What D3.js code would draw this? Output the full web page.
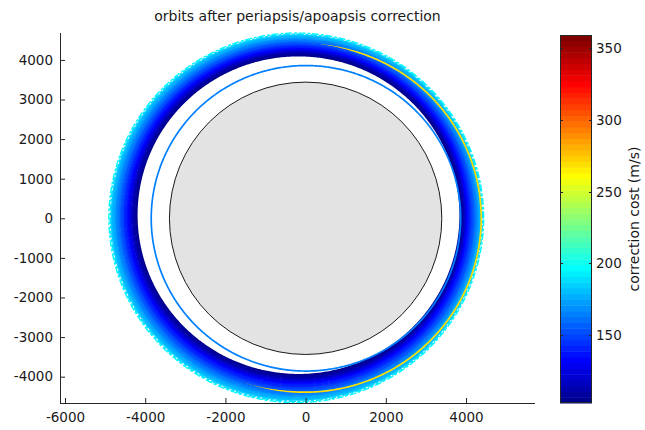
<!DOCTYPE html>
<html>
<head>
<meta charset="utf-8">
<script src="https://cdn.jsdelivr.net/npm/d3@7/dist/d3.min.js"></script>
<style>
  html, body { margin: 0; padding: 0; background: #fff; }
  svg { display: block; font-family: "DejaVu Sans", sans-serif; }
</style>
</head>
<body>
<svg id="chart" width="645" height="430"></svg>
<script>
// Corrected orbits forming the ring: Keplerian ellipses with Mars at the focus (km, deg, m/s)
const ringSemiMajor     = [4035, 4058, 4081, 4104, 4127, 4150, 4173, 4196, 4219, 4242, 4265, 4288, 4311, 4334,
                           4357, 4380, 4403, 4426, 4449, 4472, 4495, 4518, 4541, 4564, 4587, 4610, 4641, 4672];
const ringEccentricity  = [0.048, 0.048, 0.048, 0.048, 0.048, 0.048, 0.049, 0.049, 0.049, 0.049, 0.049, 0.049, 0.049, 0.049,
                           0.049, 0.049, 0.049, 0.050, 0.050, 0.050, 0.050, 0.050, 0.050, 0.050, 0.050, 0.050, 0.050, 0.050];
const ringPeriapsisDeg  = [-24, -23, -22, -21, -20, -19, -18, -17, -17, -16, -15, -14, -13, -12,
                           -12, -11, -10, -9, -8, -8, -7, -6, -6, -5, -4, -4, -3, -3];
const ringCost          = [104, 107, 110, 113, 116, 119, 123, 127, 131, 135, 139, 142, 145, 148,
                           151, 154, 157, 160, 163, 166, 169, 172, 175, 178, 181, 185, 190, 196];

// Two further orbits: a costly near-circular one and an inner low orbit
const extraSemiMajor    = [4392, 3858];
const extraEccentricity = [0.003, 0.002];
const extraPeriapsisDeg = [0, 180];
const extraCost         = [268, 164];

const marsRadius = 3396;
const costRange  = [102.6, 359.3];
const xDomain    = [-6125, 5720];
const yDomain    = [-4665, 4680];
const xTicks     = [-6000, -4000, -2000, 0, 2000, 4000];
const yTicks     = [-4000, -3000, -2000, -1000, 0, 1000, 2000, 3000, 4000];
const cbTicks    = [150, 200, 250, 300, 350];

const titleText  = "orbits after periapsis/apoapsis correction";
const cbLabel    = "correction cost (m/s)";

// MATLAB-style jet colormap with 64 levels
function jet64() {
  const m = 64, n = 16;
  const u = [];
  for (let k = 1; k <= n; k++) u.push(k / n);
  for (let k = 1; k < n; k++) u.push(1);
  for (let k = n; k >= 1; k--) u.push(k / n);
  const gi = u.map((_, k) => Math.ceil(n / 2) + k + 1);
  const r = new Array(m).fill(0), g = new Array(m).fill(0), b = new Array(m).fill(0);
  u.forEach((val, k) => {
    const gIdx = gi[k], rIdx = gIdx + n, bIdx = gIdx - n;
    if (gIdx >= 1 && gIdx <= m) g[gIdx - 1] = val;
    if (rIdx >= 1 && rIdx <= m) r[rIdx - 1] = val;
    if (bIdx >= 1 && bIdx <= m) b[bIdx - 1] = val;
  });
  return d3.range(m).map(i => d3.rgb(r[i] * 255, g[i] * 255, b[i] * 255).formatHex());
}
const jet = jet64();
const color = d3.scaleQuantize().domain(costRange).range(jet);

const svg = d3.select("#chart");
const plot = { left: 60, right: 535, top: 33, bottom: 403 };

const x = d3.scaleLinear().domain(xDomain).range([plot.left, plot.right]);
const y = d3.scaleLinear().domain(yDomain).range([plot.bottom, plot.top]);

// Orbit path: r(θ) = a(1-e²)/(1+e·cos(θ-ω)) around the focus at the origin
const thetas = d3.range(0, 360, 0.5).map(d => d * Math.PI / 180);
const orbitLine = d3.line().x(p => x(p[0])).y(p => y(p[1])).curve(d3.curveLinearClosed);
function orbitPoints(a, e, wDeg) {
  const w = wDeg * Math.PI / 180;
  return thetas.map(t => {
    const r = a * (1 - e * e) / (1 + e * Math.cos(t - w));
    return [r * Math.cos(t), r * Math.sin(t)];
  });
}

const orbits = [];
ringSemiMajor.forEach((a, i) => orbits.push({
  a, e: ringEccentricity[i], w: ringPeriapsisDeg[i], cost: ringCost[i],
  edge: i >= ringSemiMajor.length - 2
}));
extraSemiMajor.forEach((a, i) => orbits.push({
  a, e: extraEccentricity[i], w: extraPeriapsisDeg[i], cost: extraCost[i], edge: false
}));
// plotted from the widest orbit inwards
orbits.sort((p, q) => q.a - p.a);

// Mars
svg.append("circle")
  .attr("cx", x(0)).attr("cy", y(0))
  .attr("r", x(marsRadius) - x(0))
  .attr("fill", "#e3e3e3")
  .attr("stroke", "#1a1a1a")
  .attr("stroke-width", 1);

svg.append("g").selectAll("path")
  .data(orbits)
  .join("path")
  .attr("d", o => orbitLine(orbitPoints(o.a, o.e, o.w)))
  .attr("fill", "none")
  .attr("stroke", o => color(o.cost))
  .attr("stroke-width", o => o.edge ? 1.4 : 1.7)
  .attr("stroke-dasharray", o => o.edge ? "7 1.5 3 2" : null);

// Axes (ticks point inward)
const axisColor = "#262626";
const gx = svg.append("g").attr("transform", `translate(0,${plot.bottom})`)
  .call(d3.axisBottom(x).tickValues(xTicks).tickSize(-5).tickPadding(9).tickFormat(d3.format("d")));
const gy = svg.append("g").attr("transform", `translate(${plot.left},0)`)
  .call(d3.axisLeft(y).tickValues(yTicks).tickSize(-5).tickPadding(7).tickFormat(d3.format("d")));
[gx, gy].forEach(g => {
  g.select(".domain").attr("stroke", axisColor);
  g.selectAll(".tick line").attr("stroke", axisColor);
  g.selectAll(".tick text").attr("fill", "#1a1a1a").style("font-size", "13.5px").style("font-family", "DejaVu Sans");
});
gx.select(".domain").attr("d", `M${plot.left},0.5H${plot.right}`);
gy.select(".domain").attr("d", `M0.5,${plot.top}V${plot.bottom}`);
gx.selectAll(".tick text").text(d => d3.format("d")(d).replace("−", "-"));
gy.selectAll(".tick text").text(d => d3.format("d")(d).replace("−", "-"));

// Title
svg.append("text")
  .attr("x", (plot.left + plot.right) / 2).attr("y", 21)
  .attr("text-anchor", "middle")
  .attr("fill", "#1a1a1a")
  .style("font-size", "14px")
  .text(titleText);

// Colorbar
const cb = { left: 560, right: 592, top: 35, bottom: 403 };
const cy = d3.scaleLinear().domain(costRange).range([cb.bottom, cb.top]);
const cbG = svg.append("g");
const step = (costRange[1] - costRange[0]) / jet.length;
cbG.selectAll("rect.band")
  .data(jet)
  .join("rect")
  .attr("class", "band")
  .attr("x", cb.left)
  .attr("width", cb.right - cb.left)
  .attr("y", (c, i) => cy(costRange[0] + (i + 1) * step))
  .attr("height", (c, i) => cy(costRange[0] + i * step) - cy(costRange[0] + (i + 1) * step) + 0.5)
  .attr("fill", c => c);
cbG.append("rect")
  .attr("x", cb.left + 0.5).attr("y", cb.top + 0.5)
  .attr("width", cb.right - cb.left - 1).attr("height", cb.bottom - cb.top - 1)
  .attr("fill", "none").attr("stroke", axisColor);
const cbTickG = cbG.selectAll("g.cbtick").data(cbTicks).join("g")
  .attr("class", "cbtick")
  .attr("transform", d => `translate(0,${Math.round(cy(d)) + 0.5})`);
cbTickG.append("line").attr("x1", cb.left).attr("x2", cb.left + 3).attr("stroke", axisColor);
cbTickG.append("line").attr("x1", cb.right - 3).attr("x2", cb.right).attr("stroke", axisColor);
cbTickG.append("text")
  .attr("x", cb.right + 4).attr("dy", "0.32em")
  .attr("fill", "#1a1a1a")
  .style("font-size", "13.5px")
  .text(d => d);

svg.append("text")
  .attr("transform", `translate(639,${(cb.top + cb.bottom) / 2}) rotate(-90)`)
  .attr("text-anchor", "middle")
  .attr("fill", "#1a1a1a")
  .style("font-size", "14px")
  .text(cbLabel);
</script>
</body>
</html>
